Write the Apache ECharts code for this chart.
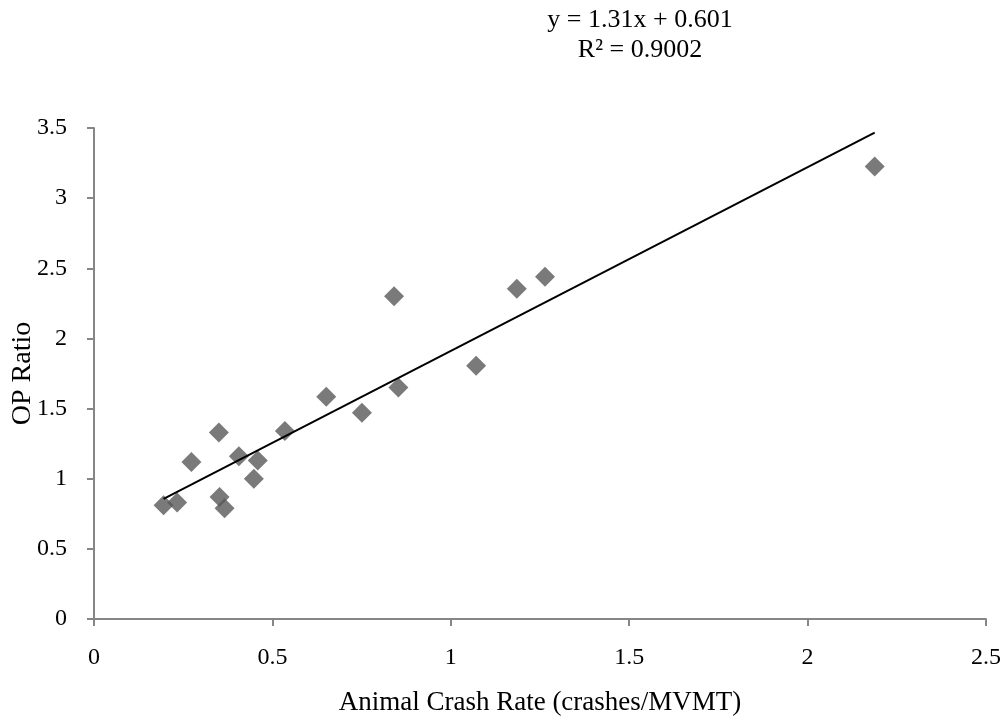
<!DOCTYPE html>
<html>
<head>
<meta charset="utf-8">
<script src="https://cdn.jsdelivr.net/npm/echarts@6/dist/echarts.min.js"></script>
<style>
  html, body { margin: 0; padding: 0; background: #fff; }
  #chart { width: 1006px; height: 721px; }
</style>
</head>
<body>
<div id="chart"></div>
<script>
// Animal crash rate (crashes/MVMT) for each site
const crashRate = [0.195, 0.233, 0.273, 0.350, 0.352, 0.366, 0.406, 0.459, 0.448, 0.535,
                   0.651, 0.751, 0.841, 0.853, 1.071, 1.185, 1.264, 2.188];
// Matching OP ratio values
const opRatio = [0.81, 0.83, 1.12, 1.33, 0.87, 0.79, 1.16, 1.13, 1.00, 1.34,
                 1.585, 1.47, 2.30, 1.65, 1.805, 2.355, 2.44, 3.225];

// Linear trendline coefficients
const slope = 1.31;
const intercept = 0.601;
const rSquared = 0.9002;

const xTicks = { min: 0, max: 2.5, step: 0.5 };
const yTicks = { min: 0, max: 3.5, step: 0.5 };

const points = crashRate.map((x, i) => [x, opRatio[i]]);
const xLo = Math.min(...crashRate);
const xHi = Math.max(...crashRate);
const trend = [[xLo, slope * xLo + intercept], [xHi, slope * xHi + intercept]];

const FONT = '"Liberation Serif", "Times New Roman", serif';
const axisGray = '#868686';

const chart = echarts.init(document.getElementById('chart'), null, { renderer: 'canvas' });
chart.setOption({
  animation: false,
  backgroundColor: '#ffffff',
  grid: {
    left: 94, right: 20, top: 128, bottom: 102,
    containLabel: false, outerBoundsMode: 'none'
  },
  xAxis: {
    type: 'value',
    min: xTicks.min, max: xTicks.max, interval: xTicks.step,
    name: 'Animal Crash Rate (crashes/MVMT)',
    nameLocation: 'middle', nameGap: 70, nameMoveOverlap: false,
    nameTextStyle: { fontFamily: FONT, fontSize: 27, color: '#000' },
    axisLine: { show: true, onZero: false, lineStyle: { color: axisGray, width: 2 } },
    axisTick: { show: true, inside: false, length: 7, lineStyle: { color: axisGray, width: 2 } },
    axisLabel: { fontFamily: FONT, fontSize: 24, color: '#000', margin: 27 },
    splitLine: { show: false }
  },
  yAxis: {
    type: 'value',
    min: yTicks.min, max: yTicks.max, interval: yTicks.step,
    name: 'OP Ratio',
    nameLocation: 'middle', nameGap: 57, nameMoveOverlap: false,
    nameTextStyle: { fontFamily: FONT, fontSize: 28, color: '#000' },
    axisLine: { show: true, onZero: false, lineStyle: { color: axisGray, width: 2 } },
    axisTick: { show: true, inside: false, length: 7, lineStyle: { color: axisGray, width: 2 } },
    axisLabel: { fontFamily: FONT, fontSize: 24, color: '#000', margin: 27 },
    splitLine: { show: false }
  },
  graphic: [
    {
      // trendline equation and goodness of fit
      type: 'text',
      x: 640, y: 5,
      style: {
        text: 'y = ' + slope + 'x + ' + intercept + '\nR² = ' + rSquared.toFixed(4),
        fontFamily: FONT, fontSize: 26, fill: '#000',
        textAlign: 'center', textVerticalAlign: 'top', lineHeight: 30
      }
    }
  ],
  series: [
    {
      type: 'line',
      data: trend,
      showSymbol: false,
      symbol: 'none',
      lineStyle: { color: '#000', width: 2 },
      z: 3
    },
    {
      type: 'scatter',
      data: points,
      symbol: 'diamond',
      symbolSize: 20,
      itemStyle: { color: '#595959' },
      z: 2
    }
  ]
});
</script>
</body>
</html>
